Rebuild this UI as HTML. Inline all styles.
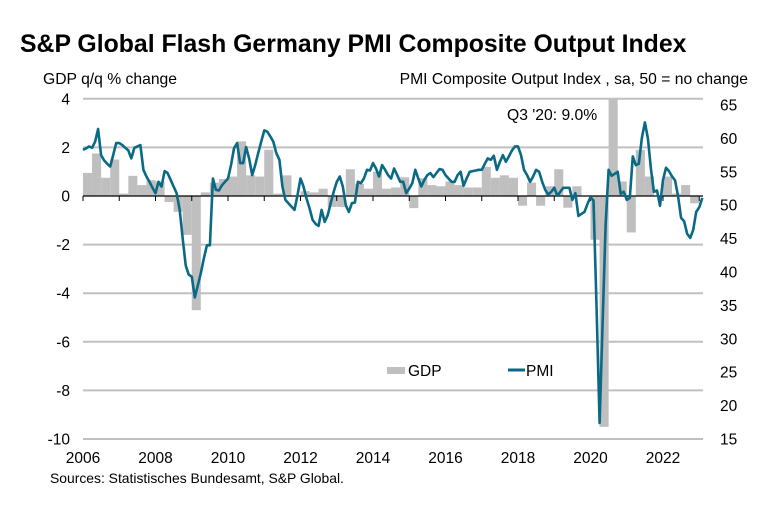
<!DOCTYPE html>
<html><head><meta charset="utf-8"><style>
body{margin:0;background:#fff;}
svg text{font-family:"Liberation Sans",Arial,sans-serif;}
</style></head><body>
<svg id="chart" width="771" height="505" viewBox="0 0 771 505" xmlns="http://www.w3.org/2000/svg">
<rect width="771" height="505" fill="#fff"/>
<text x="20" y="52" font-size="24.8" font-weight="bold" fill="#000">S&amp;P Global Flash Germany PMI Composite Output Index</text>
<text x="43" y="84" font-size="15.7" fill="#000">GDP q/q % change</text>
<text x="748" y="84" font-size="15.7" fill="#000" text-anchor="end">PMI Composite  Output Index  , sa, 50 = no change</text>
<g id="grid"></g>
<g id="bars"></g>
<g id="axis"></g>
<g id="line"></g>
<text x="507" y="120" font-size="15.7" fill="#000">Q3 '20: 9.0%</text>
<rect x="387" y="367" width="18" height="7" fill="#bfbfbf"/>
<text x="408" y="376" font-size="15.5">GDP</text>
<line x1="508" y1="370" x2="525" y2="370" stroke="#0a6a85" stroke-width="3"/>
<text x="526" y="376" font-size="15.5">PMI</text>
<text x="50" y="483" font-size="13.9" fill="#000">Sources: Statistisches Bundesamt, S&amp;P Global.</text>
</svg>
<script>
const gdpTicks=[4,2,0,-2,-4,-6,-8,-10];
const pmiTicks=[65,60,55,50,45,40,35,30,25,20,15];
const yearLabels=[2006,2008,2010,2012,2014,2016,2018,2020,2022];
const gdp=[0.95,1.75,0.75,1.5, 0.1,0.83,0.45,0.65, 0.6,-0.25,-0.65,-1.6, -4.7,0.15,0.55,0.7,
0.8,2.25,0.85,0.8, 1.9,0.1,0.85,0.0, 0.2,0.15,0.3,-0.45, -0.45,1.1,0.5,0.3,
1.0,0.3,0.35,0.77, -0.5,0.73,0.45,0.4, 0.6,0.45,0.35,0.35, 1.2,0.75,0.85,0.75,
-0.4,0.55,-0.4,0.4, 1.1,-0.48,0.4,0.02, -1.8,-9.5,9.0,0.6, -1.5,1.9,0.8,0.0,
0.8,0.1,0.45,-0.3];
const pmi=[58.3,58.5,58.8,58.6,59.5,61.4,57.5,56.7,56.2,55.8,57.5,59.3,
59.3,59.0,58.6,58.2,57.0,58.6,58.8,59.0,55.3,54.3,53.5,52.6,
51.8,53.5,52.8,55.1,54.8,53.8,52.8,51.8,49.3,45.0,41.0,39.6,
39.3,36.2,38.0,39.8,42.0,44.0,44.0,54.0,52.3,52.2,53.0,53.5,
54.0,56.0,58.5,59.3,56.3,56.3,58.7,57.0,54.5,56.0,57.8,59.5,
61.2,61.0,60.3,59.5,57.8,56.8,52.8,50.8,50.3,49.8,49.3,51.5,
54.0,52.8,51.0,49.5,47.8,47.2,46.9,49.3,47.5,48.5,50.3,52.0,
53.5,54.3,52.8,50.0,49.0,50.3,50.4,53.5,53.3,54.0,55.3,55.2,
56.3,55.5,54.3,56.0,55.3,54.5,54.0,55.5,54.5,53.5,53.5,51.8,
52.5,53.3,55.3,54.0,52.8,53.8,54.5,54.8,54.2,54.8,55.4,55.3,
54.5,54.0,53.5,53.5,54.5,55.0,52.9,54.0,55.0,55.1,55.2,55.3,
55.3,56.2,57.0,56.8,57.4,55.3,56.5,57.5,56.5,57.3,58.2,58.8,
58.8,57.5,55.3,54.5,53.5,54.3,55.3,55.0,53.5,52.3,51.6,52.0,
52.6,51.4,52.0,52.6,52.6,52.6,50.8,51.8,48.4,48.7,49.0,50.2,
51.2,50.7,35.0,17.4,32.3,47.0,55.3,54.4,54.7,55.0,51.7,52.0,
50.8,51.1,57.3,56.0,56.2,60.1,62.4,60.0,55.5,52.0,52.2,49.9,
53.8,55.6,55.1,54.3,53.7,51.3,48.1,47.6,45.7,45.1,46.3,49.0,
49.7,51.1];
const NS="http://www.w3.org/2000/svg";
const X0=83,YEARW=36.25,XEND=703;
const yG=v=>196-v*24.3;
const yP=v=>439-(v-15)*6.68;
const xM=m=>X0+m*YEARW/12;
const xQ=q=>X0+q*YEARW/4;
function mk(tag,attrs,parent){const e=document.createElementNS(NS,tag);for(const k in attrs)e.setAttribute(k,attrs[k]);parent.appendChild(e);return e;}
const grid=document.getElementById('grid'),bars=document.getElementById('bars'),axis=document.getElementById('axis'),lineG=document.getElementById('line');
gdpTicks.forEach(v=>{
 if(v!==0){const l=mk('line',{x1:X0,x2:XEND,y1:yG(v),y2:yG(v),stroke:'#c0c0c0','stroke-width':2},grid);
 
 }
 const t=mk('text',{x:70,y:yG(v)+5.5,'font-size':15.5,'text-anchor':'end'},axis);t.textContent=v;
 
 
});
pmiTicks.forEach(v=>{
 const t=mk('text',{x:720,y:yP(v)+5.5,'font-size':15.5},axis);t.textContent=v;
 
 
});
gdp.forEach((v,i)=>{
 const top=Math.max(99,Math.min(yG(v),196)),bot=Math.min(439,Math.max(yG(v),196));
 const r=mk('rect',{x:xQ(i),y:top,width:YEARW/4,height:Math.max(0.5,bot-top),fill:'#bfbfbf'},bars);
 
 
});
const zl=mk('line',{x1:X0,x2:XEND,y1:196,y2:196,stroke:'#000','stroke-width':1.2},axis);


for(let y=0;y<=17;y++){const tk=mk('line',{x1:X0+y*YEARW,x2:X0+y*YEARW,y1:196,y2:201,stroke:'#000','stroke-width':1},axis);
 
 }
yearLabels.forEach(yr=>{const t=mk('text',{x:X0+(yr-2006)*YEARW,y:463,'font-size':15.5,'text-anchor':'middle'},axis);t.textContent=yr;
 
 });
const pts=pmi.map((v,i)=>xM(i).toFixed(1)+','+yP(v).toFixed(1)).join(' ');
const pl=mk('polyline',{points:pts,fill:'none',stroke:'#0a6a85','stroke-width':2.6,'stroke-linejoin':'round'},lineG);


</script>
</body></html>
